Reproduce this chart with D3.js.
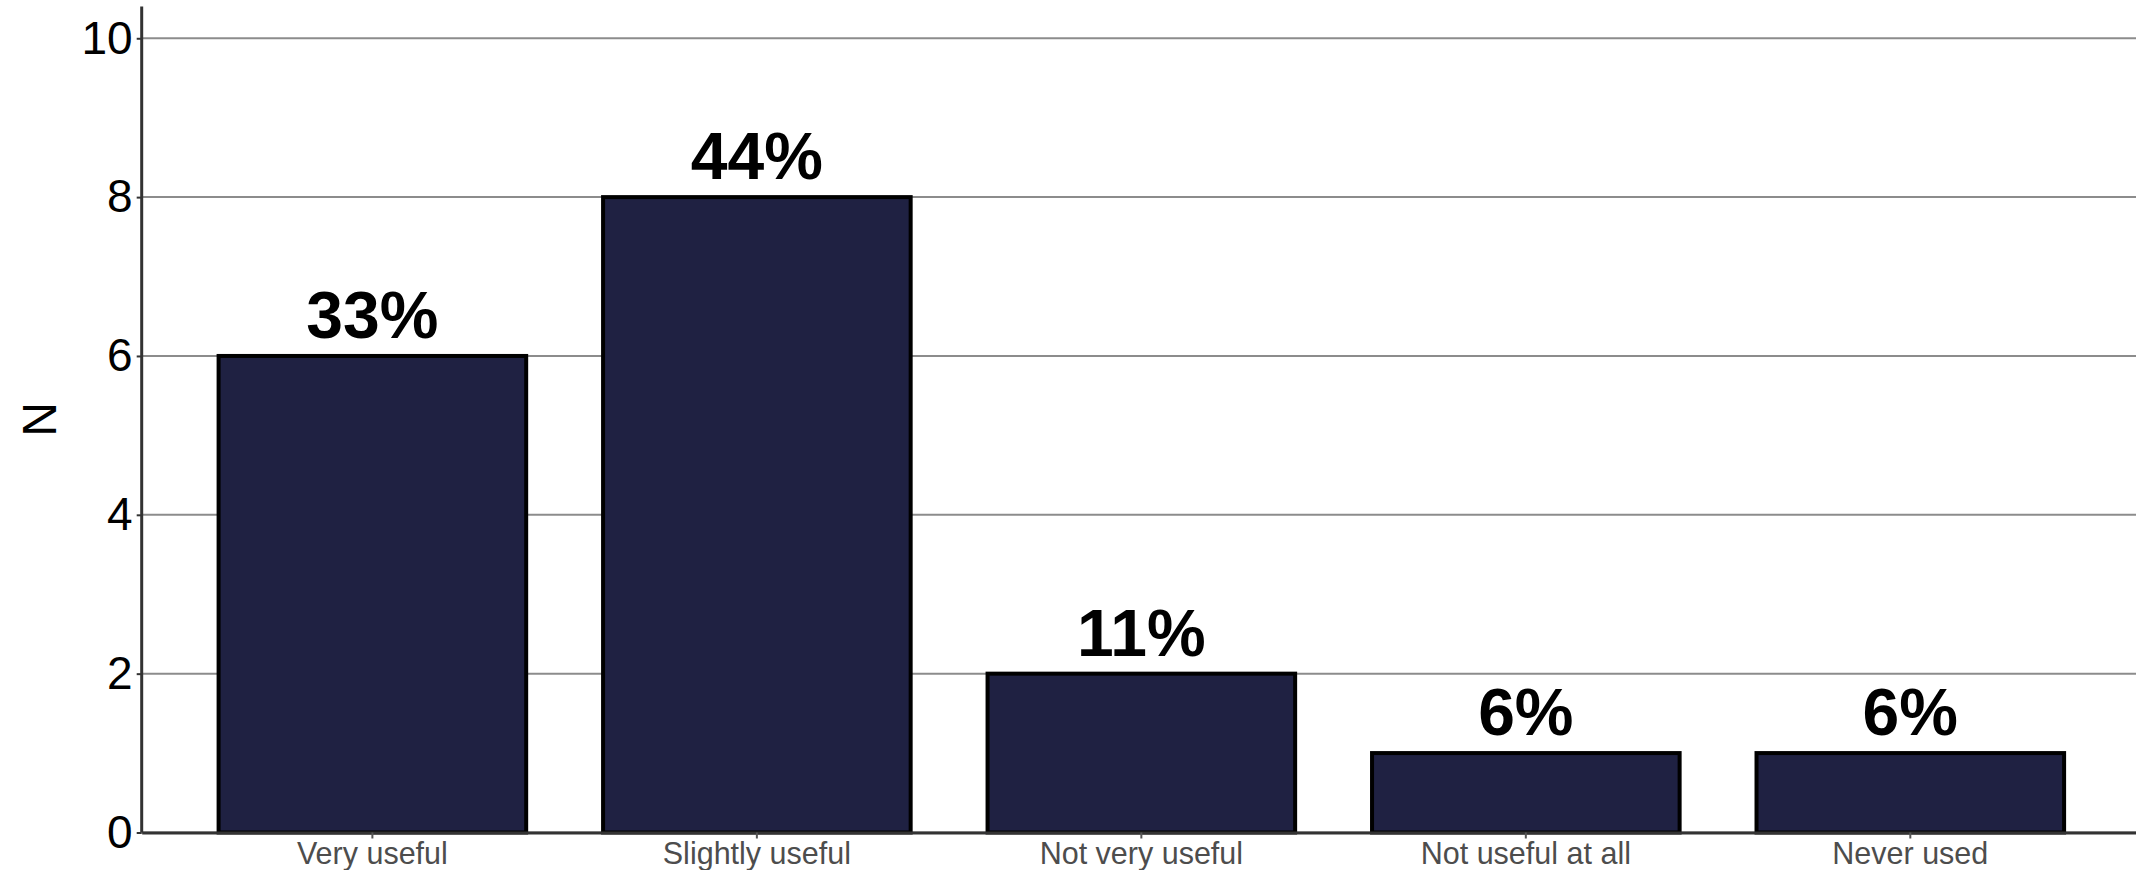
<!DOCTYPE html>
<html>
<head>
<meta charset="utf-8">
<script src="https://cdn.jsdelivr.net/npm/d3@7"></script>
<style>
    body { margin: 0; background: #fff; }
    svg { display: block; font-family: "Liberation Sans", Arial, sans-serif; }
</style>
</head>
<body>
<div id="chart"></div>
<script>
var WIDTH = 2136;
var HEIGHT = 870;

// data
var CATEGORIES = ["Very useful", "Slightly useful", "Not very useful", "Not useful at all", "Never used"];
var COUNTS = [6, 8, 2, 1, 1];
var Y_TICKS = [0, 2, 4, 6, 8, 10];

// panel runs slightly past the right edge of the picture
var MARGIN = {top: 6.5, right: -5, bottom: 37.5, left: 141.7};

function init() {
    SVG = d3.select("div#chart").append("svg")
        .attr("width", WIDTH)
        .attr("height", HEIGHT);

    let total = d3.sum(COUNTS);

    X = d3.scaleBand()
        .domain(CATEGORIES)
        .range([MARGIN.left, WIDTH - MARGIN.right])
        .paddingInner(0.2)
        .paddingOuter(0.2);

    Y = d3.scaleLinear()
        .domain([0, 10.4])
        .range([HEIGHT - MARGIN.bottom, MARGIN.top]);

    // grid lines
    SVG.append("g").attr("class", "grid")
      .selectAll("line")
      .data(Y_TICKS)
      .join("line")
        .attr("x1", MARGIN.left)
        .attr("x2", WIDTH)
        .attr("y1", d => Y(d))
        .attr("y2", d => Y(d))
        .attr("stroke", "#8c8c8c")
        .attr("stroke-width", 2);

    // bars
    SVG.append("g").attr("class", "bars")
      .selectAll("rect")
      .data(COUNTS)
      .join("rect")
        .attr("x", (d, i) => X(CATEGORIES[i]))
        .attr("y", d => Y(d))
        .attr("width", X.bandwidth())
        .attr("height", d => Y(0) - Y(d))
        .attr("fill", "#1f2142")
        .attr("stroke", "#000")
        .attr("stroke-width", 4);

    // percentage labels
    SVG.append("g").attr("class", "labels")
      .selectAll("text")
      .data(COUNTS)
      .join("text")
        .attr("x", (d, i) => X(CATEGORIES[i]) + X.bandwidth() / 2)
        .attr("y", d => Y(d) - 18)
        .attr("text-anchor", "middle")
        .attr("font-size", 66)
        .attr("font-weight", "bold")
        .attr("fill", "#000")
        .text(d => Math.round(d / total * 100) + "%");

    // y axis
    let y_axis = SVG.append("g")
        .attr("transform", `translate(${MARGIN.left},0)`)
        .call(d3.axisLeft(Y).tickValues(Y_TICKS).tickSize(5).tickPadding(4));
    y_axis.select(".domain")
        .attr("d", `M0,${MARGIN.top}V${Y(0)}`)
        .attr("stroke", "#333")
        .attr("stroke-width", 3);
    y_axis.selectAll(".tick line").attr("stroke", "#333").attr("stroke-width", 2);
    y_axis.selectAll(".tick text")
        .attr("font-size", 46)
        .attr("fill", "#000")
        .attr("font-family", "'Liberation Sans', Arial, sans-serif");

    // x axis
    let x_axis = SVG.append("g")
        .attr("transform", `translate(0,${Y(0)})`)
        .call(d3.axisBottom(X).tickSize(6).tickPadding(4).tickSizeOuter(0));
    x_axis.select(".domain").attr("stroke", "#333").attr("stroke-width", 3);
    x_axis.selectAll(".tick line").attr("stroke", "#555").attr("stroke-width", 2);
    x_axis.selectAll(".tick text")
        .attr("font-size", 30.5)
        .attr("fill", "#4d4d4d")
        .attr("font-family", "'Liberation Sans', Arial, sans-serif");

    // y axis title
    SVG.append("text")
        .attr("transform", `translate(56,${(Y(0) + MARGIN.top) / 2}) rotate(-90)`)
        .attr("text-anchor", "middle")
        .attr("font-size", 48)
        .attr("fill", "#000")
        .text("N");
}

init();
</script>
</body>
</html>
